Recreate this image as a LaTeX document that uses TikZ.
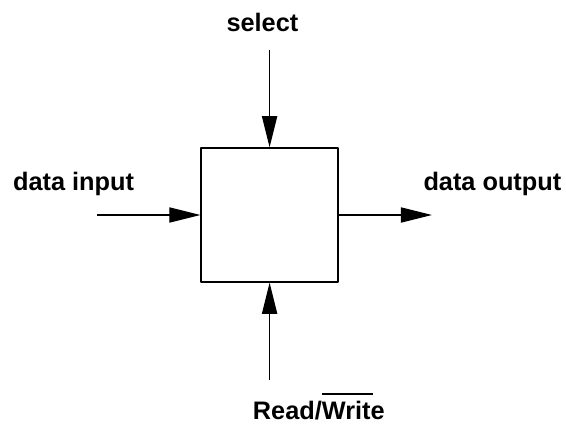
\documentclass[tikz,border=0pt]{standalone}
\usepackage{fontspec}
\setmainfont{Liberation Sans}
\usetikzlibrary{positioning, arrows.meta}
\newcommand{\negsig}[1]{\setbox0\hbox{#1}\rlap{\rule[0.95em]{\dimexpr\wd0-0.45em\relax}{0.06em}}\box0}

\begin{document}
\begin{tikzpicture}[line join=bevel, line width=.9pt,
  sig/.style={-{Triangle[length=.78cm, width=.38cm]}},
  lbl/.style={anchor=base, font=\fontsize{18}{21}\selectfont\bfseries}]
\useasboundingbox (0,0) rectangle (14.15,-10.6);
% Block
\node[draw, minimum width=3.425cm, minimum height=3.35cm] (mem) at (6.74,-5.375) {};
% Free ends of the lines
\coordinate (sel) at (mem.north |- 0,-1.25);
\coordinate (din) at (2.425,-5.375);
\coordinate (dout) at (10.8,-5.375);
\coordinate (rw) at (mem.south |- 0,-9.5);
% Arrows
\draw[sig] (sel) -- (mem.north);
\draw[sig] (din) -- (mem.west);
\draw[sig] (mem.east) -- (dout);
\draw[sig] (rw) -- (mem.south);
% Text
\node[lbl] (selt) at (6.56,-0.8) {select};
\node[lbl] (dint) at (1.84,-4.75) {data input};
\node[lbl] (doutt) at (12.31,-4.75) {data output};
\node[lbl] (rwt) at (7.97,-10.475) {Read/\negsig{Write}};
\end{tikzpicture}
\end{document}
